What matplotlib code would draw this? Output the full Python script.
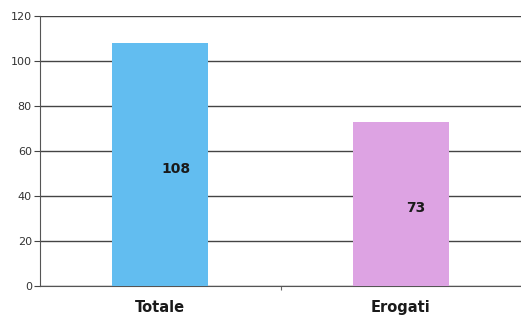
import matplotlib.pyplot as plt
from matplotlib.transforms import offset_copy

categories = ["Totale", "Erogati"]
values = [108, 73]
bar_colors = ["#62BDF0", "#DDA3E3"]

fig = plt.figure(figsize=(5.21, 3.15), dpi=100)
ax = fig.add_axes([0.077, 0.092, 0.923, 0.857])

x = list(range(len(categories)))
bars = ax.bar(x, values, width=0.4, color=bar_colors, zorder=3)

# value labels near the middle of each bar, nudged right like the original
lab_trans = offset_copy(ax.transData, fig=fig, x=11, y=-3, units="points")
for b, v in zip(bars, values):
    ax.text(b.get_x() + b.get_width() / 2, v / 2, str(v),
            transform=lab_trans, ha="center", va="center", fontsize=10,
            fontweight="bold", color="#1a1a1a", zorder=4)

ax.set_xlim(-0.5, 1.5)
ax.set_ylim(0, 120)
ax.set_yticks(range(0, 121, 20))
ax.yaxis.grid(True, color="#444444", linewidth=1.0, zorder=0)
ax.set_xticks([0.5])
ax.set_xticklabels([""])
ax.tick_params(axis="x", length=3, color="#666666")
ax.tick_params(axis="y", length=4, color="#444444", labelsize=8,
               labelcolor="#333333", pad=2)

for xi, name in zip(x, categories):
    ax.text(xi, -6, name, ha="center", va="top", fontsize=10.5,
            fontweight="bold", color="#1a1a1a")

for side in ["top", "right"]:
    ax.spines[side].set_visible(False)
ax.spines["left"].set_color("#555555")
ax.spines["bottom"].set_color("#555555")

fig.savefig("out.png", dpi=100)
